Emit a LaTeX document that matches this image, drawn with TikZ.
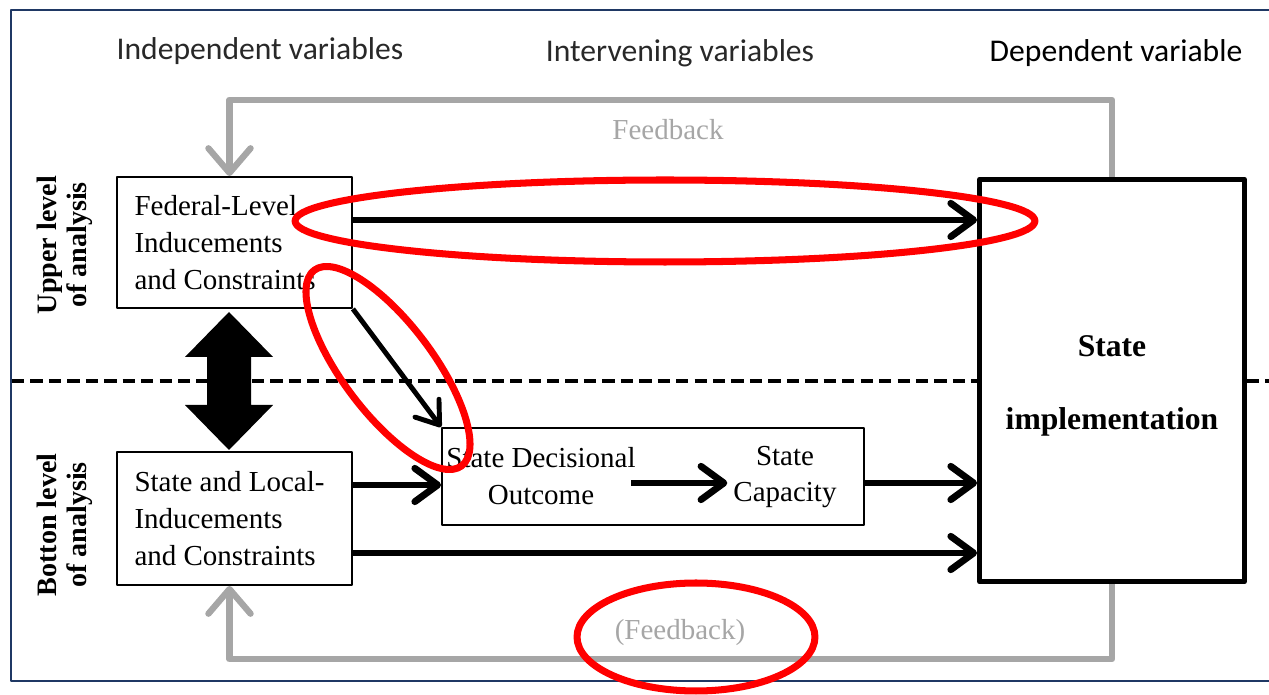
\documentclass[tikz,border=0pt]{standalone}
\usepackage{fontspec}
\setmainfont{Liberation Serif}
\newfontfamily\hdfont{Carlito}
\usetikzlibrary{arrows.meta,calc}
\definecolor{framecol}{RGB}{31,56,100}
\definecolor{fbgray}{RGB}{166,166,166}
\definecolor{hdgray}{RGB}{40,40,40}
\begin{document}
\begin{tikzpicture}[x=0.02cm, y=-0.02cm, line join=round,
  box/.style={draw, line width=1.1pt, fill=white, inner sep=0pt},
  txt/.style={font=\fontsize{16.5}{21}\selectfont},
  bigarrow/.style={line width=3.9pt, -{Straight Barb[length=13pt, width=19pt, round]}},
  feedback/.style={fbgray, line width=3.6pt, -{Straight Barb[length=14pt, width=24pt, round]}},
  oval/.style={red, line width=4pt},
  header/.style={font=\hdfont\fontsize{18}{22}\selectfont},
  side/.style={rotate=90, align=center, font=\bfseries\fontsize{16}{17}\selectfont}]
\useasboundingbox (0,0) rectangle (1269,695);
\clip (0,0) rectangle (1269,695);
\draw[framecol, line width=1.2pt] (11,10) rectangle (1300,681);
% headers
\node[header, hdgray] (indep) at (260,51) {Independent variables};
\node[header, hdgray] (interv) at (680,53) {Intervening variables};
\node[header] (dep) at (1116,53) {Dependent variable};
\node[side] (upper) at (65,245) {Upper level\\of analysis};
\node[side] (lower) at (65,525) {Botton level\\of analysis};
% boxes
\node[box, txt, text width=4.0cm, inner xsep=0.35cm, minimum height=2.62cm, align=flush left] (fed) at (234.5,242.5) {Federal-Level\\Inducements\\and Constraints};
\node[box, txt, text width=4.0cm, inner xsep=0.35cm, minimum height=2.66cm, align=flush left] (sl) at (234.5,518.5) {State and Local-\\Inducements\\and Constraints};
\node[box, minimum width=8.44cm, minimum height=1.94cm] (mid) at (653,476.5) {};
\node[txt, align=center] (dec) at (541,476) {State Decisional\\Outcome};
\node[txt, align=center] (cap) at (785,477) {State\\Capacity};
\node[draw, line width=2.8pt, fill=white, minimum width=5.3cm, minimum height=8.05cm] (si) at (1112,380.5) {};
\node[align=center, font=\bfseries\fontsize{18}{42}\selectfont] (silabel) at (1112,386) {State\\implementation};
% level divider
\draw[line width=2.1pt, dash pattern=on 7pt off 3.5pt] (12,381) -- (si.west |- 0,381) (si.east |- 0,381) -- (1275,381);
% feedback loops
\draw[feedback] (si.north) -- ++(0,-77) -| ($(fed.north)+(-5,0)$);
\draw[feedback] (si.south) -- ++(0,75) -| ($(sl.south)+(-5,0)$);
\node[txt, fbgray] (fbtop) at (668,130) {Feedback};
\node[txt, fbgray] (fbbot) at (680,633) {(Feedback)};
% two-way link between levels
\fill (229,312) -- (273,357) -- (251,357) -- (251,405) -- (273,405) -- (229,450)
  -- (185,405) -- (207,405) -- (207,357) -- (185,357) -- cycle;
% causal arrows
\draw[bigarrow] (fed.east |- 0,220) -- (si.west |- 0,220);
\draw[line width=2.8pt, -{Straight Barb[length=12pt, width=17pt, round]}] (fed.south east) -- (mid.north west);
\draw[bigarrow] (sl.east |- 0,485) -- (mid.west |- 0,485);
\draw[bigarrow] (sl.east |- 0,553) -- (si.west |- 0,553);
\draw[bigarrow, shorten <=-6pt] (dec.east |- 0,483) -- (cap.west |- 0,483);
\draw[bigarrow] (mid.east |- 0,483) -- (si.west |- 0,483);
% highlights
\draw[oval] (665,221) ellipse [x radius=7.4cm, y radius=0.82cm];
\draw[oval, rotate around={-53:(388,368)}] (388,368) ellipse [x radius=2.45cm, y radius=0.9cm];
\draw[oval] (696,637) ellipse [x radius=2.38cm, y radius=1.08cm];
\end{tikzpicture}
\end{document}
